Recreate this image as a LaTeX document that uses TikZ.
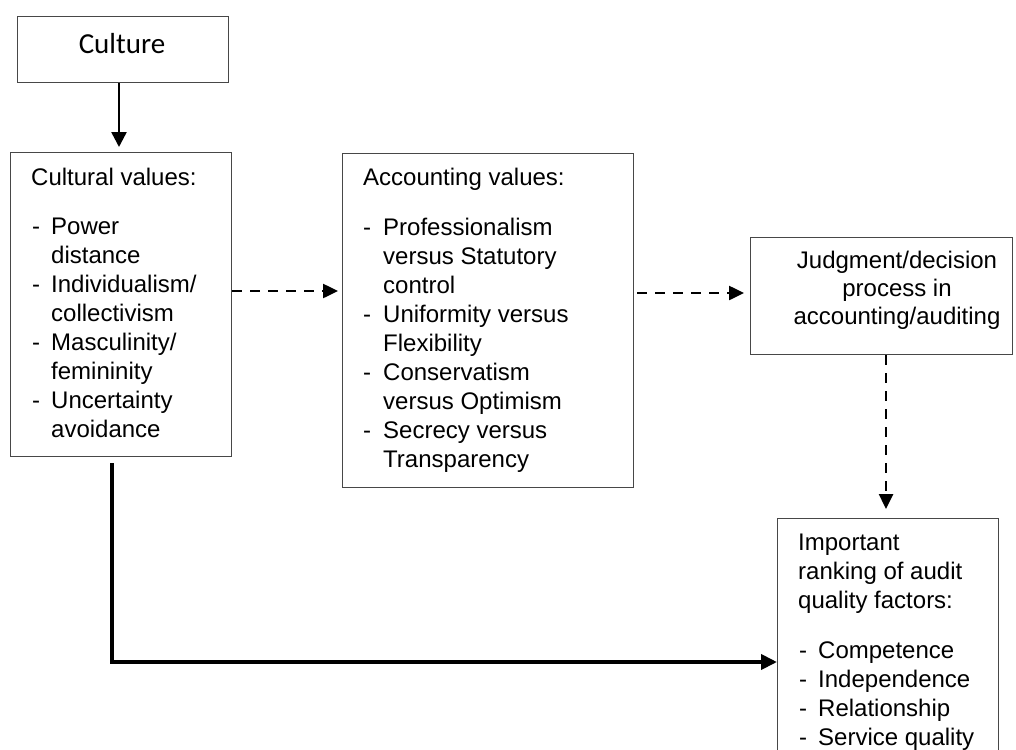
\documentclass[tikz,border=0pt]{standalone}
\usepackage{fontspec}
\setmainfont{Liberation Sans}
\newfontfamily\calibrifont{Carlito}
\usetikzlibrary{arrows.meta}
\begin{document}
\begin{tikzpicture}[x=1pt,y=-1pt,
  box/.style={draw=black!72, line width=1.3pt, inner sep=0pt, anchor=north west},
  txt/.style={anchor=base west, inner sep=0pt, font=\fontsize{24}{29}\selectfont},
  ctxt/.style={anchor=base, inner sep=0pt, font=\fontsize{24}{29}\selectfont},
  solidarrow/.style={line width=2.5pt, -{Triangle[length=15pt,width=15pt]}},
  thickarrow/.style={line width=3.8pt, -{Triangle[length=16pt,width=15pt]}},
  dasharrow/.style={line width=2.5pt, dash pattern=on 10pt off 8pt, -{Triangle[length=15pt,width=14pt]}}]
\useasboundingbox (0,0) rectangle (1016,749);
\clip (0,0) rectangle (1016,749);
\fill[white] (0,0) rectangle (1016,749);

% boxes
\node[box, minimum width=211pt, minimum height=66pt] (culture) at (17,16) {};
\node[box, minimum width=221pt, minimum height=304pt] (cv) at (10,152) {};
\node[box, minimum width=291pt, minimum height=334pt] (av) at (342,153) {};
\node[box, minimum width=262pt, minimum height=117pt] (jd) at (750,237) {};
\node[box, minimum width=221pt, minimum height=260pt] (iq) at (777,518) {};

% culture text
\node[anchor=base, inner sep=0pt, font=\calibrifont\fontsize{29}{35}\selectfont] (culturetxt) at (122,54) {Culture};

% cultural values
\node[txt] (cvh) at (31,185) {Cultural values:};
\foreach \t [count=\i] in {Power,distance,Individualism/,collectivism,Masculinity/,femininity,Uncertainty,avoidance}
  \node[txt] (cvl\i) at (51,{234+29*(\i-1)}) {\t};
\foreach \i in {1,3,5,7}
  \node[txt] (cvd\i) at (32,{234+29*(\i-1)}) {-};

% accounting values
\node[txt] (avh) at (363,185) {Accounting values:};
\foreach \t [count=\i] in {Professionalism,versus Statutory,control,Uniformity versus,Flexibility,Conservatism,versus Optimism,Secrecy versus,Transparency}
  \node[txt] (avl\i) at (383,{235+29*(\i-1)}) {\t};
\foreach \i in {1,4,6,8}
  \node[txt] (avd\i) at (363,{235+29*(\i-1)}) {-};

% judgment
\node[ctxt] (jd1) at (897,268) {Judgment/decision};
\node[ctxt] (jd2) at (897,296) {process in};
\node[ctxt] (jd3) at (897,324) {accounting/auditing};

% important ranking
\node[txt] (iqh1) at (798,550) {Important};
\node[txt] (iqh2) at (798,579) {ranking of audit};
\node[txt] (iqh3) at (798,608) {quality factors:};
\foreach \t [count=\i] in {Competence,Independence,Relationship,Service quality}
  \node[txt] (iql\i) at (818,{658+29*(\i-1)}) {\t};
\foreach \i in {1,2,3,4}
  \node[txt] (iqd\i) at (799,{658+29*(\i-1)}) {-};

% connectors
\coordinate (cx) at (119,0);
\draw[solidarrow, shorten >=5pt] (culture.south -| cx) -- (cv.north -| cx);

\coordinate (y1) at (0,291);
\draw[dasharrow, shorten >=4pt] (cv.east |- y1) -- (av.west |- y1);

\coordinate (y2) at (0,293);
\draw[dasharrow, shorten <=3pt, shorten >=6pt] (av.east |- y2) -- (jd.west |- y2);

\coordinate (x3) at (886,0);
\draw[dasharrow, shorten >=9pt] (jd.south -| x3) -- (iq.north -| x3);

\coordinate (x4) at (112,0);
\coordinate (corner) at (112,662);
\draw[thickarrow, line join=miter] ([yshift=-6pt]cv.south -| x4) -- (corner) -- (iq.west |- corner);
\end{tikzpicture}
\end{document}
